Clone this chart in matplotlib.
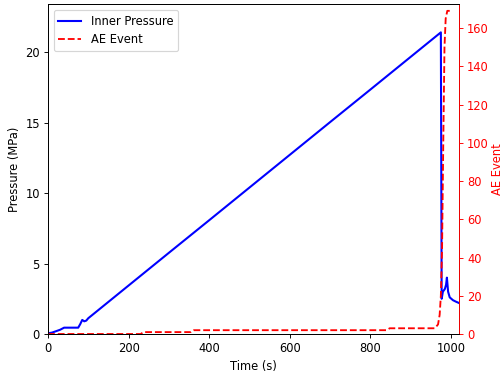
import matplotlib
matplotlib.use("Agg")
import matplotlib.pyplot as plt

# pressure readings (time in s, pressure in MPa)
time_p = [0, 10, 20, 30, 40, 50, 60, 75, 80, 85, 90, 95, 100, 200, 300, 400,
          500, 600, 700, 800, 900, 975, 977, 980, 985, 988, 990, 993, 997,
          1005, 1012, 1020]
pressure = [0.05, 0.1, 0.2, 0.3, 0.45, 0.45, 0.45, 0.45, 0.7, 1.0, 0.9, 0.95,
            1.12, 3.44, 5.76, 8.07, 10.39, 12.71, 15.03, 17.34, 19.66, 21.4,
            2.5, 3.0, 3.2, 3.5, 4.0, 3.0, 2.6, 2.4, 2.3, 2.2]

# cumulative acoustic emission events
time_ae = [0, 230, 237, 355, 362, 840, 848, 960, 968, 972, 975, 978, 981,
           984, 987, 991, 997]
ae = [0, 0, 1, 1, 2, 2, 3, 3, 5, 10, 20, 45, 100, 150, 165, 169, 169]

fig, ax1 = plt.subplots(figsize=(503 / 83, 379 / 83), dpi=83)
l1, = ax1.plot(time_p, pressure, color='blue', linewidth=1.8, label='Inner Pressure')
ax1.set_xlabel('Time (s)')
ax1.set_ylabel('Pressure (MPa)')
ax1.set_xlim(0, 1020)
ax1.set_ylim(0, 23.4)

ax2 = ax1.twinx()
l2, = ax2.plot(time_ae, ae, color='red', linestyle='--', linewidth=1.6, label='AE Event')
ax2.set_ylabel('AE Event', color='red', labelpad=2)
ax2.tick_params(axis='y', colors='red')
ax2.spines['right'].set_color('red')
ax2.set_ylim(0, 172.5)

ax1.legend([l1, l2], ['Inner Pressure', 'AE Event'], loc='upper left')

plt.subplots_adjust(left=0.0954, right=0.9125, top=0.989, bottom=0.1187)
plt.savefig('out.png', dpi=83)
